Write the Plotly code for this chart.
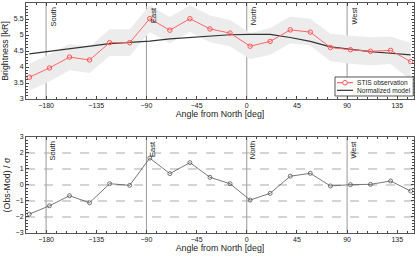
import plotly.graph_objects as go

angle = [-195 + 18 * k for k in range(20)]
obs = [3.68, 3.97, 4.31, 4.22, 4.76, 4.76, 5.51, 5.15, 5.51, 5.19,
       5.06, 4.65, 4.80, 5.16, 5.09, 4.61, 4.54, 4.49, 4.52, 4.17]
sigma = [0.42, 0.42, 0.41, 0.41, 0.42, 0.42, 0.42, 0.41, 0.42, 0.42,
         0.41, 0.41, 0.42, 0.42, 0.42, 0.43, 0.44, 0.44, 0.43, 0.58]
model = [4.41, 4.49, 4.58, 4.67, 4.73, 4.77, 4.81, 4.88, 4.92, 4.97,
         5.01, 5.02, 5.02, 4.92, 4.80, 4.63, 4.55, 4.48, 4.43, 4.38]
resid = [-1.82, -1.30, -0.67, -1.11, 0.08, -0.02, 1.68, 0.71, 1.40, 0.48,
         0.08, -0.94, -0.52, 0.55, 0.73, -0.06, 0.02, 0.04, 0.25, -0.38]
dirs = ["South", "East", "North", "West"]
dir_angle = [-180, -90, 0, 90]
xticks = [-180, -135, -90, -45, 0, 45, 90, 135]
legend_names = ["STIS observation", "Normalized model"]

upper = [o + s for o, s in zip(obs, sigma)]
lower = [o - s for o, s in zip(obs, sigma)]

FONT = "Liberation Sans, Arial, sans-serif"
RED = "#ff6666"
MODEL = "#333333"
fig = go.Figure()
fig.add_trace(go.Scatter(x=angle, y=upper, mode="lines", line=dict(width=0),
                         showlegend=False, hoverinfo="skip", xaxis="x", yaxis="y"))
fig.add_trace(go.Scatter(x=angle, y=lower, mode="lines", line=dict(width=0),
                         fill="tonexty", fillcolor="#ececec",
                         showlegend=False, hoverinfo="skip", xaxis="x", yaxis="y"))
fig.add_trace(go.Scatter(x=angle, y=model, mode="lines", name=legend_names[1],
                         line=dict(color=MODEL, width=1.1), xaxis="x", yaxis="y",
                         showlegend=False))
fig.add_trace(go.Scatter(x=angle, y=obs, mode="lines+markers", name=legend_names[0],
                         line=dict(color=RED, width=1),
                         marker=dict(symbol="circle-open", size=4.5, color="#ff5555",
                                     line=dict(width=1)),
                         xaxis="x", yaxis="y", showlegend=False))
fig.add_trace(go.Scatter(x=angle, y=resid, mode="lines+markers", showlegend=False,
                         line=dict(color="#555555", width=0.8),
                         marker=dict(symbol="circle-open", size=4, color="#555555",
                                     line=dict(width=0.8)),
                         xaxis="x2", yaxis="y2"))

shapes = []
annotations = []
for d, a in zip(dirs, dir_angle):
    for xr, yr in (("x", "y domain"), ("x2", "y2 domain")):
        shapes.append(dict(type="line", xref=xr, yref=yr, x0=a, x1=a, y0=0, y1=1,
                           line=dict(color="#999999", width=1), layer="below"))
        annotations.append(dict(x=a, y=1, xref=xr, yref=yr, text=d, showarrow=False,
                                textangle=-90, xanchor="left", yanchor="top",
                                xshift=0, yshift=-2,
                                font=dict(family=FONT, size=7.5, color="#222222")))
for v in [-2, -1, 0, 1, 2]:
    shapes.append(dict(type="line", xref="x2 domain", yref="y2", x0=0, x1=1, y0=v, y1=v,
                       line=dict(color="#aaaaaa", width=1, dash="dash"), layer="below"))

# legend box (drawn in paper coordinates, inside top panel lower-right)
shapes.append(dict(type="rect", xref="paper", yref="paper", x0=0.7964, x1=0.998,
                   y0=0.5957, y1=0.6783, fillcolor="white",
                   line=dict(color="#555555", width=1), layer="above"))
ly = [0.6535, 0.6204]
lcol = [RED, MODEL]
for name, yy, c in zip(legend_names, ly, lcol):
    shapes.append(dict(type="line", xref="paper", yref="paper", x0=0.8015, x1=0.8428,
                       y0=yy, y1=yy, line=dict(color=c, width=1.2), layer="above"))
    annotations.append(dict(x=0.848, y=yy, xref="paper", yref="paper", text=name,
                            showarrow=False, xanchor="left", yanchor="middle",
                            font=dict(family=FONT, size=6.6, color="#222222")))
shapes.append(dict(type="circle", xref="paper", yref="paper", xsizemode="pixel",
                   ysizemode="pixel", xanchor=0.8222, yanchor=ly[0],
                   x0=-2.3, x1=2.3, y0=-2.3, y1=2.3, fillcolor="white",
                   line=dict(color="#ff5555", width=1), layer="above"))

xcommon = dict(range=[-198, 150], tickvals=xticks, ticks="inside", ticklen=3,
               tickcolor="#444444", showline=True, linecolor="#555555", linewidth=1,
               mirror="allticks", showgrid=False, zeroline=False,
               tickfont=dict(family=FONT, size=7, color="#222222"),
               minor=dict(dtick=9, tick0=0, ticks="inside", ticklen=2, tickcolor="#444444"),
               title=dict(text="Angle from North [deg]", standoff=2,
                          font=dict(family=FONT, size=8.8, color="#222222")),
               automargin=False)
ycommon = dict(ticks="inside", ticklen=3, tickcolor="#444444", showline=True,
               linecolor="#555555", linewidth=1, mirror="allticks", showgrid=False,
               zeroline=False, tickfont=dict(family=FONT, size=7, color="#222222"),
               automargin=False)

fig.update_layout(
    width=415, height=259, margin=dict(l=26, r=1, t=3, b=26),
    paper_bgcolor="white", plot_bgcolor="white",
    xaxis=dict(**xcommon, anchor="y"),
    xaxis2=dict(**xcommon, anchor="y2"),
    yaxis=dict(**ycommon, domain=[0.5826, 1], range=[3, 6], dtick=0.5,
               minor=dict(dtick=0.1, ticks="inside", ticklen=2, tickcolor="#444444"),
               title=dict(text="Brightness [kR]", standoff=3,
                          font=dict(family=FONT, size=8.8, color="#222222"))),
    yaxis2=dict(**ycommon, domain=[0, 0.4174], range=[-3, 3], dtick=1,
                minor=dict(dtick=0.2, ticks="inside", ticklen=2, tickcolor="#444444"),
                title=dict(text="(Obs-Mod) / σ", standoff=3,
                           font=dict(family=FONT, size=8.8, color="#222222"))),
    shapes=shapes, annotations=annotations,
    showlegend=False,
)
fig.write_html("out.html", config={"displayModeBar": False},
               post_script="document.body.style.margin='0';")
